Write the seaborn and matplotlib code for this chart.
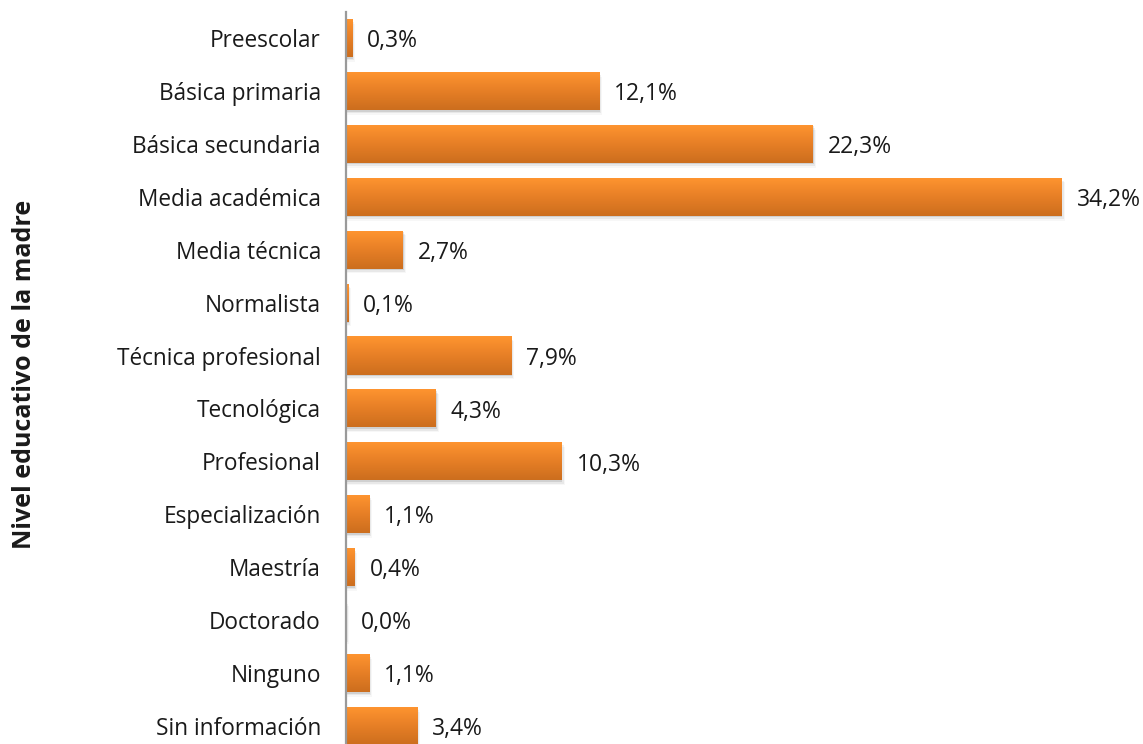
import numpy as np
import pandas as pd
import matplotlib
matplotlib.use("Agg")
import matplotlib.pyplot as plt
import seaborn as sns
from matplotlib.colors import LinearSegmentedColormap
from matplotlib.patches import Rectangle

sns.set_theme(style="white")
plt.rcParams['font.family'] = ['Open Sans', 'DejaVu Sans']

niveles = ["Preescolar", "Básica primaria", "Básica secundaria", "Media académica",
           "Media técnica", "Normalista", "Técnica profesional", "Tecnológica",
           "Profesional", "Especialización", "Maestría", "Doctorado", "Ninguno",
           "Sin información"]
porcentajes = [0.3, 12.1, 22.3, 34.2, 2.7, 0.1, 7.9, 4.3, 10.3, 1.1, 0.4, 0.0, 1.1, 3.4]
etiquetas = ["0,3%", "12,1%", "22,3%", "34,2%", "2,7%", "0,1%", "7,9%", "4,3%",
             "10,3%", "1,1%", "0,4%", "0,0%", "1,1%", "3,4%"]

df = pd.DataFrame({"nivel": niveles, "pct": porcentajes})

fig = plt.figure(figsize=(11.43, 7.44), dpi=100)
ax = fig.add_axes([0.3027, -0.0113, 0.6973, 0.9958])

sns.barplot(data=df, x="pct", y="nivel", color="#F28A2B", width=0.72, ax=ax,
            saturation=1, edgecolor="none")

# vertical gradient + soft shadow on each bar
cmap = LinearSegmentedColormap.from_list("naranja", ["#FF9530", "#E77F26", "#CC6E1E"])
grad = np.linspace(0, 1, 64).reshape(-1, 1)
for p in list(ax.patches):
    x0, y0 = p.get_x(), p.get_y()
    w, h = p.get_width(), p.get_height()
    for k, a in enumerate([0.10, 0.06, 0.03]):
        sh = Rectangle((x0, y0 + 0.03 + 0.03 * k), w + 0.05 + 0.05 * k, h,
                       facecolor="#000000", alpha=a, edgecolor="none", zorder=1)
        ax.add_patch(sh)
    p.set_zorder(2)
    im = ax.imshow(grad, cmap=cmap, aspect="auto", extent=(x0, x0 + w, y0 + h, y0),
                   zorder=3, interpolation="bilinear")
    im.set_clip_path(p)

ax.set_xlim(0, 38.1)
ax.set_ylim(13.5, -0.5)

for i, (v, t) in enumerate(zip(porcentajes, etiquetas)):
    ax.text(v + 0.72, i + 0.06, t, va="center", ha="left", fontsize=16.5,
            color="#1a1a1a", clip_on=False)

for s in ["top", "right", "bottom"]:
    ax.spines[s].set_visible(False)
ax.spines["left"].set_color("#9a9a9a")
ax.spines["left"].set_linewidth(1.6)
ax.spines["left"].set_zorder(5)

ax.set_xticks([])
ax.tick_params(axis="y", length=0, pad=18, labelsize=16.3, labelcolor="#1a1a1a")
ax.set_xlabel("")
ax.set_ylabel("")

fig.text(0.021, 0.497, "Nivel educativo de la madre", rotation=90, va="center",
         ha="center", fontsize=18, fontweight="bold", color="#1a1a1a")

fig.savefig("out.png", dpi=100)
